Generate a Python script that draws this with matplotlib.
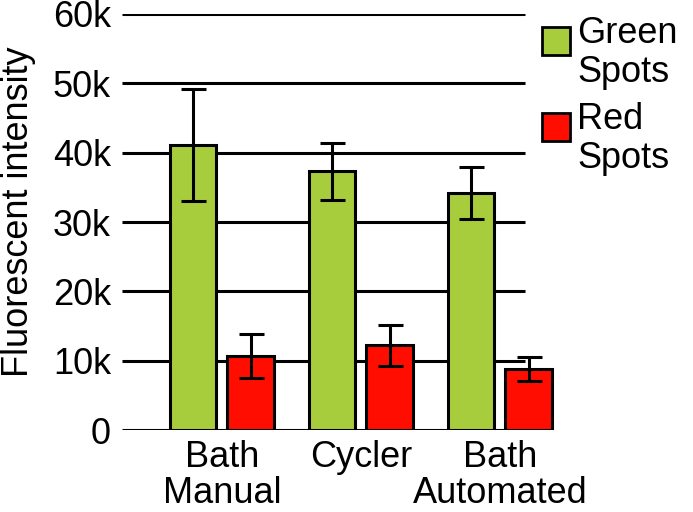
import numpy as np
import matplotlib
matplotlib.use('Agg')
import matplotlib.pyplot as plt
from matplotlib.patches import Rectangle

plt.rcParams['font.family'] = ['Liberation Sans', 'DejaVu Sans']

groups = ['Bath\nManual', 'Cycler', 'Bath\nAutomated']
green_vals = [41100, 37300, 34200]
green_err = [8100, 4100, 3800]
red_vals = [10700, 12200, 8800]
red_err = [3200, 2900, 1750]
yticks = [0, 10000, 20000, 30000, 40000, 50000, 60000]
ytick_labels = ['0', '10k', '20k', '30k', '40k', '50k', '60k']

green_color = '#a8cd3c'
red_color = '#ff0d00'

fig = plt.figure(figsize=(6.93, 5.12), dpi=100)
ax = fig.add_axes([122/693, 1 - 430/512, (560 - 122)/693, (430 - 14)/512])

x = np.arange(len(groups))
width = 0.335
off = 0.207

ax.hlines(yticks, -0.719, 2.18, colors='black', linewidth=2.2, zorder=0)

ax.bar(x - off, green_vals, width, color=green_color, edgecolor='black',
       linewidth=2.2, zorder=2)
ax.bar(x + off, red_vals, width, color=red_color, edgecolor='black',
       linewidth=2.2, zorder=2)
ax.errorbar(x - off, green_vals, yerr=green_err, fmt='none', ecolor='black',
            elinewidth=2.2, capsize=9, capthick=2.2, zorder=3)
ax.errorbar(x + off, red_vals, yerr=red_err, fmt='none', ecolor='black',
            elinewidth=2.2, capsize=9, capthick=2.2, zorder=3)

ax.set_xlim(-0.719, 2.432)
ax.set_ylim(0, 60000)
for s in ax.spines.values():
    s.set_visible(False)

ax.set_yticks(yticks)
ax.set_yticklabels(ytick_labels, fontsize=26)
ax.set_xticks(x)
ax.set_xticklabels(groups, fontsize=26, linespacing=1.05)
ax.tick_params(axis='y', length=0, pad=8)
ax.tick_params(axis='x', length=0, pad=7)

fig.text(1/693, 1 - 212/512, 'Fluorescent intensity', fontsize=26,
         rotation=90, ha='left', va='center')

# legend drawn by hand so the swatch sits on the first text line
legend_items = [(green_color, 'Green\nSpots', 41), (red_color, 'Red\nSpots', 127)]
for col, lab, yc in legend_items:
    fig.patches.append(Rectangle((542/693, 1 - (yc + 14)/512), 28/693, 28/512,
                                 transform=fig.transFigure, facecolor=col,
                                 edgecolor='black', linewidth=2))
    fig.text(577/693, 1 - (yc - 25)/512, lab, fontsize=26, va='top',
             ha='left', linespacing=1.15)

fig.savefig('out.png', dpi=100)
